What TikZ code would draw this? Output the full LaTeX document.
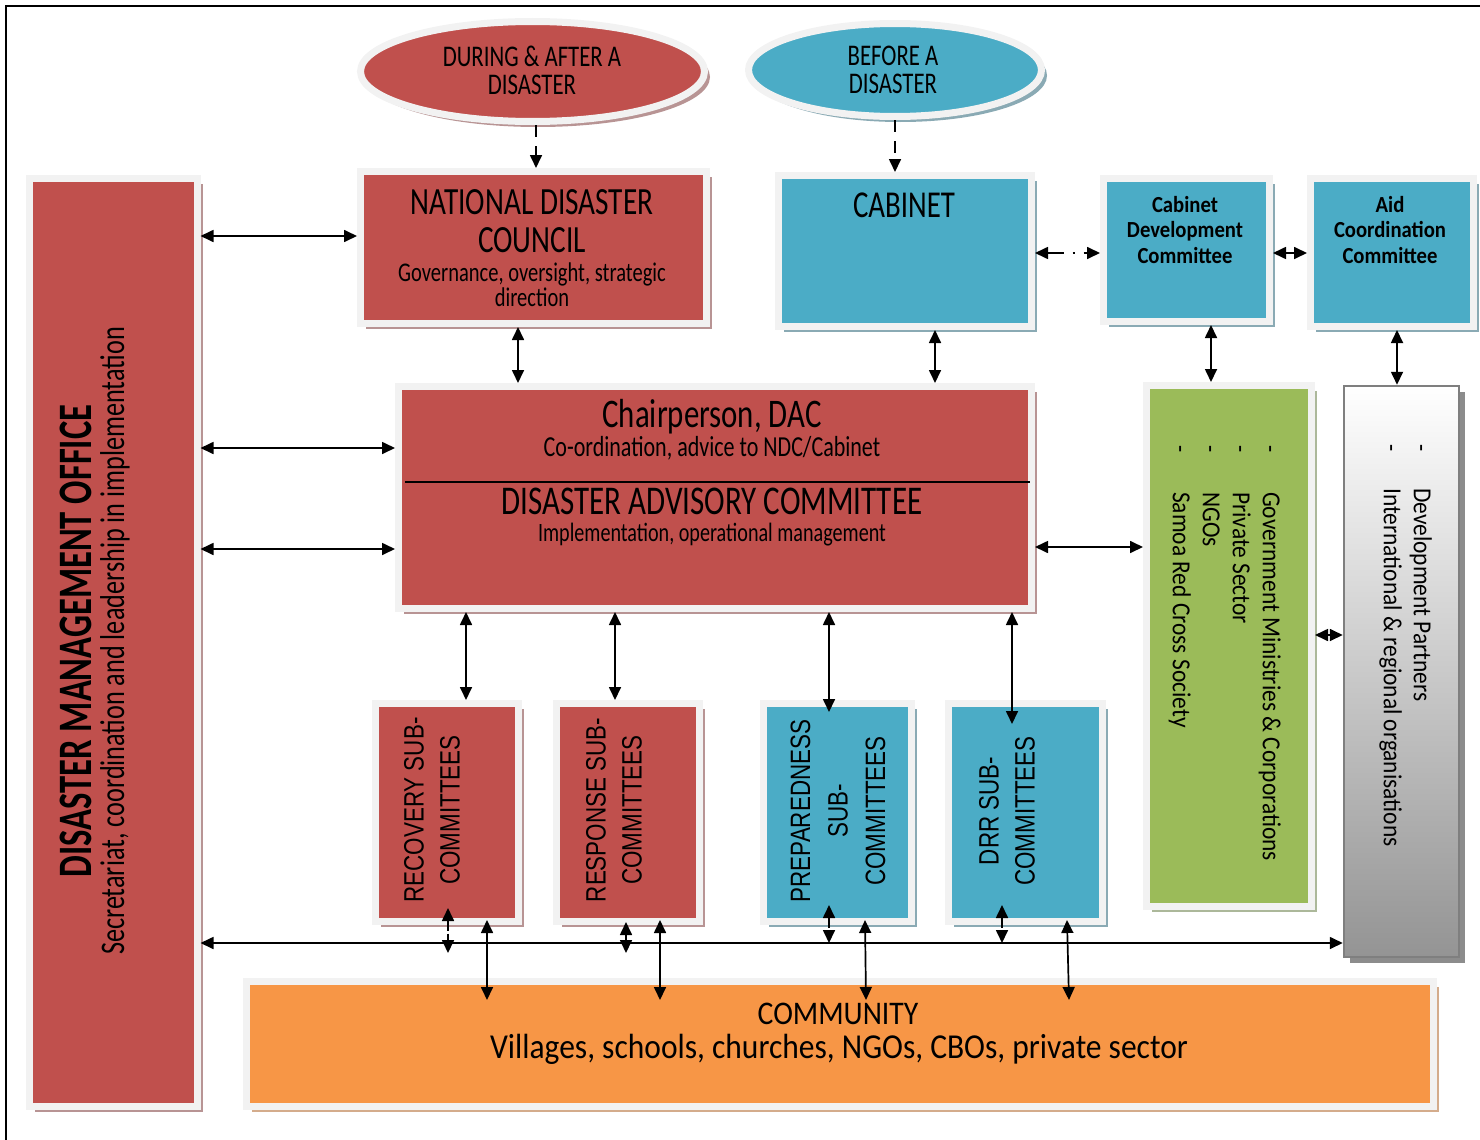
\documentclass[tikz,border=0pt]{standalone}
\usepackage{fontspec}
\setmainfont{Carlito}
\newfontfamily\tf[FakeStretch=0.76]{Carlito}
\newfontfamily\tfb[FakeStretch=0.72]{Carlito}
\newfontfamily\cf[FakeStretch=0.9]{Carlito}
\newfontfamily\af[FakeStretch=0.8]{Liberation Sans}
\usetikzlibrary{arrows.meta,shadows,calc,shapes.geometric}
\definecolor{cred}{HTML}{C0504D}
\definecolor{cblue}{HTML}{4BACC6}
\definecolor{cgreen}{HTML}{9BBB59}
\definecolor{corange}{HTML}{F79646}
\definecolor{cframe}{HTML}{F2F2F2}
\definecolor{shred}{HTML}{B89494}
\definecolor{shblue}{HTML}{8AAAB4}
\definecolor{shgreen}{HTML}{ACB89A}
\definecolor{shorange}{HTML}{D4AC8C}
\definecolor{shgray}{HTML}{8C8C8C}
\definecolor{grayedge}{HTML}{7F7F7F}
\tikzset{
  >={Triangle[length=13pt,width=12pt]},
  frm/.style={draw=cframe, line width=7pt, inner sep=0pt},
  shd/.style={drop shadow={shadow xshift=5.5pt, shadow yshift=-5.5pt, fill=#1, opacity=1}},
  redbox/.style={frm, fill=cred, shd=shred},
  bluebox/.style={frm, fill=cblue, shd=shblue},
  greenbox/.style={frm, fill=cgreen, shd=shgreen},
  orangebox/.style={frm, fill=corange, shd=shorange},
  graybox/.style={draw=grayedge, line width=2.5pt, inner sep=0pt, top color=white, bottom color=black!42, shd=shgray},
  redell/.style={ellipse, frm, fill=cred, shd=shred},
  blueell/.style={ellipse, frm, fill=cblue, shd=shblue},
  txt/.style={inner sep=0pt, align=center, text=black},
  biarr/.style={<->, line width=1.7pt},
  sarr/.style={->, line width=1.7pt, dash pattern=on 12pt off 9pt},
  dashdot/.style={dash pattern=on 16pt off 9pt on 2pt off 9pt},
  shortdash/.style={dash pattern=on 10pt off 3pt},
}
\begin{document}
\begin{tikzpicture}[x=1pt,y=-1pt]
\useasboundingbox (0,0) rectangle (1480,1140);
\draw[line width=2pt] (6,1140) -- (6,6) -- (1480,6);

% ellipses
\node[redell, minimum width=344, minimum height=100] (e1) at (532.5,71.5) {};
\node[blueell, minimum width=293, minimum height=93] (e2) at (895,70) {};
\node[txt, font={\tf\fontsize{30}{28}\selectfont}] (e1t) at (532,70) {DURING \& AFTER A\\DISASTER};
\node[txt, font={\tf\fontsize{30}{28}\selectfont}] (e2t) at (893,70) {BEFORE A\\DISASTER};

% left office
\node[redbox, minimum width=168, minimum height=928] (dmo) at (113,642.5) {};
\node[txt, rotate=90, font={\tfb\bfseries\fontsize{48}{48}\selectfont}] (dmot) at (76,641) {DISASTER MANAGEMENT OFFICE};
\node[txt, rotate=90, font={\tf\fontsize{34.5}{34}\selectfont}] (dmos) at (115,641) {Secretariat, coordination and leadership in implementation};

% top row
\node[redbox, minimum width=346, minimum height=152] (ndc) at (533.5,247.5) {};
\node[txt, font={\tf\fontsize{38.5}{38}\selectfont}] (ndct) at (532,221) {NATIONAL DISASTER\\COUNCIL};
\node[txt, font={\tf\fontsize{27}{25}\selectfont}] (ndcs) at (532,285) {Governance, oversight, strategic\\direction};

\node[bluebox, minimum width=253, minimum height=151] (cab) at (905,251) {};
\node[txt, font={\tf\fontsize{38}{38}\selectfont}] (cabt) at (904,205) {CABINET};

\node[bluebox, minimum width=166, minimum height=143] (cdc) at (1186.5,250) {};
\node[txt, font={\cf\bfseries\fontsize{23}{25.5}\selectfont}] (cdct) at (1185,230) {Cabinet\\Development\\Committee};

\node[bluebox, minimum width=163, minimum height=148] (acc) at (1392,252.5) {};
\node[txt, font={\cf\bfseries\fontsize{23}{25.5}\selectfont}] (acct) at (1390,230) {Aid\\Coordination\\Committee};

% DAC
\node[redbox, minimum width=633, minimum height=222] (dac) at (715,497.5) {};
\node[txt, font={\tf\fontsize{40.6}{40}\selectfont}] (dac1) at (712,417) {Chairperson, DAC};
\node[txt, font={\tf\fontsize{29}{29}\selectfont}] (dac2) at (712,448) {Co-ordination, advice to NDC/Cabinet};
\draw[line width=1.6pt] ($(dac.west)+(10,-15.5)$) -- ($(dac.east)+(-5,-15.5)$);
\node[txt, font={\tf\fontsize{40.8}{40}\selectfont}] (dac3) at (712,501) {DISASTER ADVISORY COMMITTEE};
\node[txt, font={\tf\fontsize{26.5}{27}\selectfont}] (dac4) at (712,535) {Implementation, operational management};

% right columns
\node[greenbox, minimum width=165, minimum height=521] (grn) at (1229,646) {};
\node[inner sep=0pt, align=left, rotate=-90, anchor=north west, font={\cf\fontsize{26}{30}\selectfont}] (grnt) at (1281,445)
  {\makebox[47pt][l]{-}Government Ministries \& Corporations\\
   \makebox[47pt][l]{-}Private Sector\\
   \makebox[47pt][l]{-}NGOs\\
   \makebox[47pt][l]{-}Samoa Red Cross Society};

\node[graybox, minimum width=115, minimum height=571] (gry) at (1401.5,671.5) {};
\node[inner sep=0pt, align=left, rotate=-90, anchor=north west, font={\cf\fontsize{26}{30}\selectfont}] (gryt) at (1432,444)
  {\makebox[44pt][l]{-}Development Partners\\
   \makebox[44pt][l]{-}International \& regional organisations};

% sub-committees
\node[redbox, minimum width=143, minimum height=218] (rec) at (447,812.5) {};
\node[redbox, minimum width=143, minimum height=218] (rsp) at (628,812.5) {};
\node[bluebox, minimum width=148, minimum height=218] (prp) at (837.5,812.5) {};
\node[bluebox, minimum width=154, minimum height=218] (drr) at (1025.5,812.5) {};
\node[txt, rotate=90, font={\af\fontsize{28}{36}\selectfont}] (rect) at (432,810) {RECOVERY SUB-\\COMMITTEES};
\node[txt, rotate=90, font={\af\fontsize{28}{36}\selectfont}] (rspt) at (614,810) {RESPONSE SUB-\\COMMITTEES};
\node[txt, rotate=90, font={\af\fontsize{28}{37.5}\selectfont}] (prpt) at (838,811) {PREPAREDNESS\\SUB-\\COMMITTEES};
\node[txt, rotate=90, font={\af\fontsize{28}{36}\selectfont}] (drrt) at (1007,811) {DRR SUB-\\COMMITTEES};

% community
\node[orangebox, minimum width=1187, minimum height=125] (com) at (840,1044) {};
\node[txt, font={\cf\fontsize{33}{33}\selectfont}] (comt1) at (838,1014) {COMMUNITY};
\node[txt, font={\cf\fontsize{35}{35}\selectfont}] (comt2) at (839,1049) {Villages, schools, churches, NGOs, CBOs, private sector};

% connectors
\draw[sarr] (536,0 |- e1.south) -- (536,0 |- ndc.north);
\draw[sarr] (895,0 |- e2.south) -- (895,0 |- cab.north);
\draw[biarr] (dmo.east |- 0,236) -- (ndc.west |- 0,236);
\draw[biarr] (dmo.east |- 0,448) -- (dac.west |- 0,448);
\draw[biarr] (dmo.east |- 0,549) -- (dac.west |- 0,549);
\draw[biarr] (518,0 |- ndc.south) -- (518,0 |- dac.north);
\draw[biarr] (935,0 |- cab.south) -- (935,0 |- dac.north);
\draw[biarr] (dac.east |- 0,547) -- (grn.west |- 0,547);
\draw[biarr] (1211,0 |- cdc.south) -- (1211,0 |- grn.north);
\draw[biarr] (1397,0 |- acc.south) -- (1397,0 |- gry.north);
\draw[biarr, dashdot] (cab.east |- 0,253) -- (cdc.west |- 0,253);
\draw[biarr, dashdot] (cdc.east |- 0,253) -- (acc.west |- 0,253);
\draw[biarr] (grn.east |- 0,635) -- (gry.west |- 0,635);

\draw[biarr] (466,0 |- dac.south) -- (466,0 |- rec.north);
\draw[biarr] (615,0 |- dac.south) -- (615,0 |- rsp.north);
\draw[biarr] (829,0 |- dac.south) -- ($(829,0 |- prp.north)+(0,12)$);
\draw[biarr] (1012,0 |- dac.south) -- ($(1012,0 |- drr.north)+(0,24)$);

\draw[biarr] (dmo.east |- 0,943) -- (gry.west |- 0,943);

\draw[biarr, shortdash] ($(448,0 |- rec.south)+(0,-17)$) -- ($(448,0 |- rec.south)+(0,28)$);
\draw[biarr, shortdash] ($(626,0 |- rsp.south)+(0,-3)$) -- ($(626,0 |- rsp.south)+(0,28)$);
\draw[biarr, shortdash] ($(829,0 |- prp.south)+(0,-20)$) -- ($(829,0 |- prp.south)+(0,18)$);
\draw[biarr, shortdash] ($(1002,0 |- drr.south)+(0,-20)$) -- ($(1002,0 |- drr.south)+(0,18)$);

\draw[biarr] ($(487,0 |- rec.south)+(0,-5)$) -- ($(487,0 |- com.north)+(0,22)$);
\draw[biarr] ($(660,0 |- rsp.south)+(0,-5)$) -- ($(660,0 |- com.north)+(0,22)$);
\draw[biarr] ($(865,0 |- prp.south)+(0,-5)$) -- ($(866,0 |- com.north)+(0,22)$);
\draw[biarr] ($(1067,0 |- drr.south)+(0,-5)$) -- ($(1069,0 |- com.north)+(0,22)$);
\end{tikzpicture}
\end{document}
